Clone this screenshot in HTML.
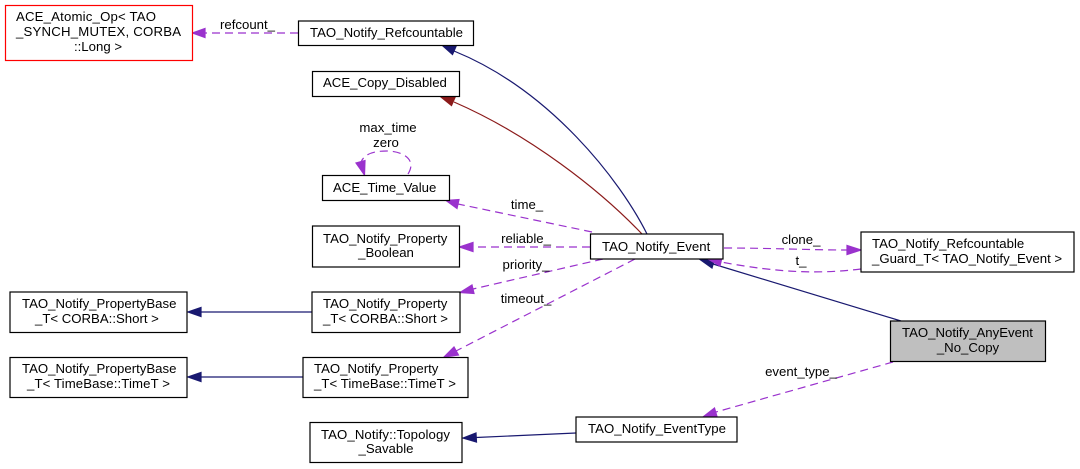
<!DOCTYPE html>
<html><head><meta charset="utf-8"><style>
html,body{margin:0;padding:0;background:#fff}
svg{display:block;filter:blur(.35px)}
text{font-family:"Liberation Sans",sans-serif;font-size:13.2px;fill:#000}
.b{fill:#fff;stroke:#000;stroke-width:1.2}
.d{fill:none;stroke:#9a32cd;stroke-width:1.2;stroke-dasharray:8,5}
.n{fill:none;stroke:#191970;stroke-width:1.2}
.r{fill:none;stroke:#8b1a1a;stroke-width:1.2}
.pa{fill:#9a32cd;stroke:#9a32cd;stroke-width:1.2}
.na{fill:#191970;stroke:#191970;stroke-width:1.2}
.ra{fill:#8b1a1a;stroke:#8b1a1a;stroke-width:1.2}
.c{text-anchor:middle}
</style></head><body>
<svg width="1080" height="469" viewBox="0 0 1080 469" xmlns="http://www.w3.org/2000/svg">
<rect width="1080" height="469" fill="#fff"/>
<!-- edges -->
<path class="d" d="M298,33 L205,33"/><polygon class="pa" points="192.500,33 205,28.500 205,37.500"/>
<path class="n" d="M647,234 C620,180 550,90 454,51"/><polygon class="na" points="443,46 456,46.500 452.500,54.500"/>
<path class="r" d="M642,234 C600,190 530,135 454,102"/><polygon class="ra" points="441,97 455,97.500 451.500,105.500"/>
<path class="d" d="M592,232 L458,204"/><polygon class="pa" points="446,200.500 459,199.500 457,208.500"/>
<path class="d" d="M408,174 C418,158 400,151 387,151 C375,151 365,153 361,162"/><polygon class="pa" points="364.500,175 356,163 365,160.500"/>
<path class="d" d="M590,247 L473,247"/><polygon class="pa" points="459.500,247 473,242.500 473,251.500"/>
<path class="d" d="M603,259 L473,289"/><polygon class="pa" points="460,292.500 472,285 474,293.500"/>
<path class="d" d="M635,259 L456,351"/><polygon class="pa" points="444,357 454,347 458.500,355"/>
<path class="d" d="M724,248 C770,248 810,250 847,250"/><polygon class="pa" points="861,250 847,245.500 847,254.500"/>
<path class="n" d="M901,321 L713,264"/><polygon class="na" points="700,259.500 714.500,259.500 712,268"/>
<path class="d" d="M861,269 C820,274 780,273 721,262"/><polygon class="pa" points="708,259 722,257.500 720,266"/>
<path class="d" d="M893,362 L716,412"/><polygon class="pa" points="703,417 714.500,408 717,416.500"/>
<path class="n" d="M312,312 L201,312"/><polygon class="na" points="188,312 201,307.500 201,316.500"/>
<path class="n" d="M303,377 L201,377"/><polygon class="na" points="188,377 201,372.500 201,381.500"/>
<path class="n" d="M576,433 L476,437.500"/><polygon class="na" points="463,438 476,433 476.500,442"/>
<!-- nodes -->
<rect x="5.500" y="5.500" width="187" height="55" fill="#fff" stroke="#f00" stroke-width="1.2"/>
<rect class="b" x="298.500" y="21" width="175" height="24.500"/>
<rect class="b" x="312.500" y="71.500" width="147" height="25"/>
<rect class="b" x="322.500" y="175.500" width="127" height="25"/>
<rect class="b" x="312.500" y="226" width="147" height="41"/>
<rect class="b" x="10" y="292" width="177" height="40.500"/>
<rect class="b" x="312" y="292" width="148" height="40.500"/>
<rect class="b" x="10" y="357.500" width="177" height="40"/>
<rect class="b" x="303" y="357.500" width="165" height="40"/>
<rect class="b" x="310" y="422.500" width="152" height="40"/>
<rect class="b" x="576" y="417" width="161" height="25"/>
<rect class="b" x="590.500" y="234" width="132.500" height="25"/>
<rect class="b" x="861" y="232" width="213" height="40"/>
<rect x="890.500" y="321" width="155" height="40.500" fill="#bfbfbf" stroke="#000" stroke-width="1.2"/>
<!-- node text -->
<text x="16" y="21" textLength="140">ACE_Atomic_Op&lt; TAO</text>
<text x="16" y="36" textLength="165">_SYNCH_MUTEX, CORBA</text>
<text x="98" y="51" class="c">::Long &gt;</text>
<text x="310" y="37" textLength="153">TAO_Notify_Refcountable</text>
<text x="323" y="87">ACE_Copy_Disabled</text>
<text x="333" y="192">ACE_Time_Value</text>
<text x="323" y="243">TAO_Notify_Property</text>
<text x="386" y="257" class="c">_Boolean</text>
<text x="22" y="308">TAO_Notify_PropertyBase</text>
<text x="35" y="323">_T&lt; CORBA::Short &gt;</text>
<text x="323" y="308">TAO_Notify_Property</text>
<text x="323" y="323" textLength="125">_T&lt; CORBA::Short &gt;</text>
<text x="22" y="373">TAO_Notify_PropertyBase</text>
<text x="27" y="388" textLength="143">_T&lt; TimeBase::TimeT &gt;</text>
<text x="314" y="373">TAO_Notify_Property</text>
<text x="314" y="388" textLength="142">_T&lt; TimeBase::TimeT &gt;</text>
<text x="321" y="439" textLength="129">TAO_Notify::Topology</text>
<text x="386" y="453" class="c">_Savable</text>
<text x="588" y="433" textLength="138">TAO_Notify_EventType</text>
<text x="602" y="251">TAO_Notify_Event</text>
<text x="872" y="248">TAO_Notify_Refcountable</text>
<text x="872" y="263">_Guard_T&lt; TAO_Notify_Event &gt;</text>
<text x="902" y="337">TAO_Notify_AnyEvent</text>
<text x="968" y="352" class="c">_No_Copy</text>
<!-- edge labels -->
<text x="247.500" y="29" class="c">refcount_</text>
<text x="388" y="132" class="c">max_time</text>
<text x="386" y="147" class="c">zero</text>
<text x="527" y="209" class="c">time_</text>
<text x="526" y="243" class="c">reliable_</text>
<text x="526" y="269" class="c">priority_</text>
<text x="526" y="303" class="c">timeout_</text>
<text x="801" y="244" class="c">clone_</text>
<text x="801" y="265" class="c">t_</text>
<text x="801" y="376" class="c">event_type_</text>
</svg>
</body></html>
